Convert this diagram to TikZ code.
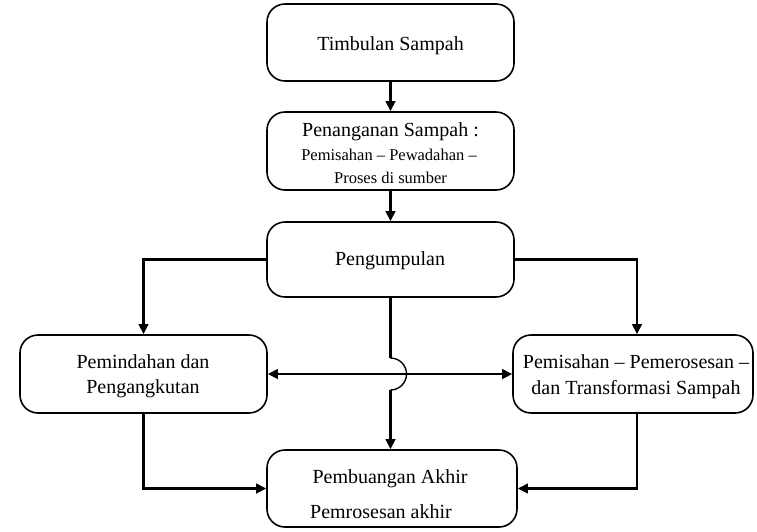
\documentclass[tikz,border=0pt]{standalone}
\usepackage{fontspec}
\setmainfont{Liberation Serif}
\usetikzlibrary{arrows.meta}

\begin{document}
\begin{tikzpicture}[x=1pt,y=-1pt,
  box/.style={draw,line width=1.6pt,rounded corners=18pt,inner sep=0pt},
  txt/.style={anchor=base,inner sep=0pt,font=\fontsize{20}{24}\selectfont},
  small/.style={txt,font=\fontsize{16.5}{20}\selectfont},
  headtip/.tip={Triangle[length=10pt,width=9.5pt]},
  link/.style={line width=2.6pt,-headtip}]
  \useasboundingbox (0,0) rectangle (757,531);

  % process boxes
  \node[box,minimum width=247pt,minimum height=77pt] (tb) at (390.5,42.5) {};
  \node[box,minimum width=247pt,minimum height=78pt] (pn) at (390.5,151) {};
  \node[box,minimum width=247pt,minimum height=75pt] (pg) at (390.5,259.5) {};
  \node[box,minimum width=247pt,minimum height=78pt] (pm) at (143.5,374) {};
  \node[box,minimum width=240pt,minimum height=78pt] (ps) at (633,374) {};
  \node[box,minimum width=250pt,minimum height=77pt] (pb) at (392,488.5) {};

  % box texts, set on their baselines
  \node[txt] (tbA) at (390.5,50) {Timbulan Sampah};
  \node[txt] (pnA) at (390.5,136) {Penanganan Sampah :};
  \node[small] (pnB) at (389,160) {Pemisahan -- Pewadahan --};
  \node[small] (pnC) at (390.5,183) {Proses di sumber};
  \node[txt] (pgA) at (390,265) {Pengumpulan};
  \node[txt] (pmA) at (143,368) {Pemindahan dan};
  \node[txt] (pmB) at (143,393) {Pengangkutan};
  \node[txt] (psA) at (636,368) {Pemisahan -- Pemerosesan --};
  \node[txt] (psB) at (636,394) {dan Transformasi Sampah};
  \node[txt] (pbA) at (390,483) {Pembuangan Akhir};
  \node[txt] (pbB) at (381,518) {Pemrosesan akhir};

  % main chain
  \draw[link,line width=3pt] (tb.south) -- (pn.north);
  \draw[link,line width=3pt] (pn.south) -- (pg.north);

  % branches from Pengumpulan
  \draw[link] (pg.west) -| (pm.north);
  \draw[link] (pg.east) -| ([xshift=4pt]ps.north);

  % straight down, hopping over the cross link
  \coordinate (hopTop) at (390.5,358);
  \coordinate (hopBot) at (390.5,390);
  \draw[line width=3pt] (pg.south) -- (hopTop);
  \draw[line width=1.4pt] (hopTop) arc[start angle=90,end angle=-90,radius=16pt];
  \draw[link,line width=3pt] (hopBot) -- (hopBot |- pb.north);

  % cross link between the two middle boxes
  \draw[line width=2.6pt,headtip-headtip] (pm.east) -- (ps.west);

  % into the final box
  \draw[link] (pm.south) |- (pb.west);
  \draw[link] ([xshift=4pt]ps.south) |- (pb.east);
\end{tikzpicture}
\end{document}
